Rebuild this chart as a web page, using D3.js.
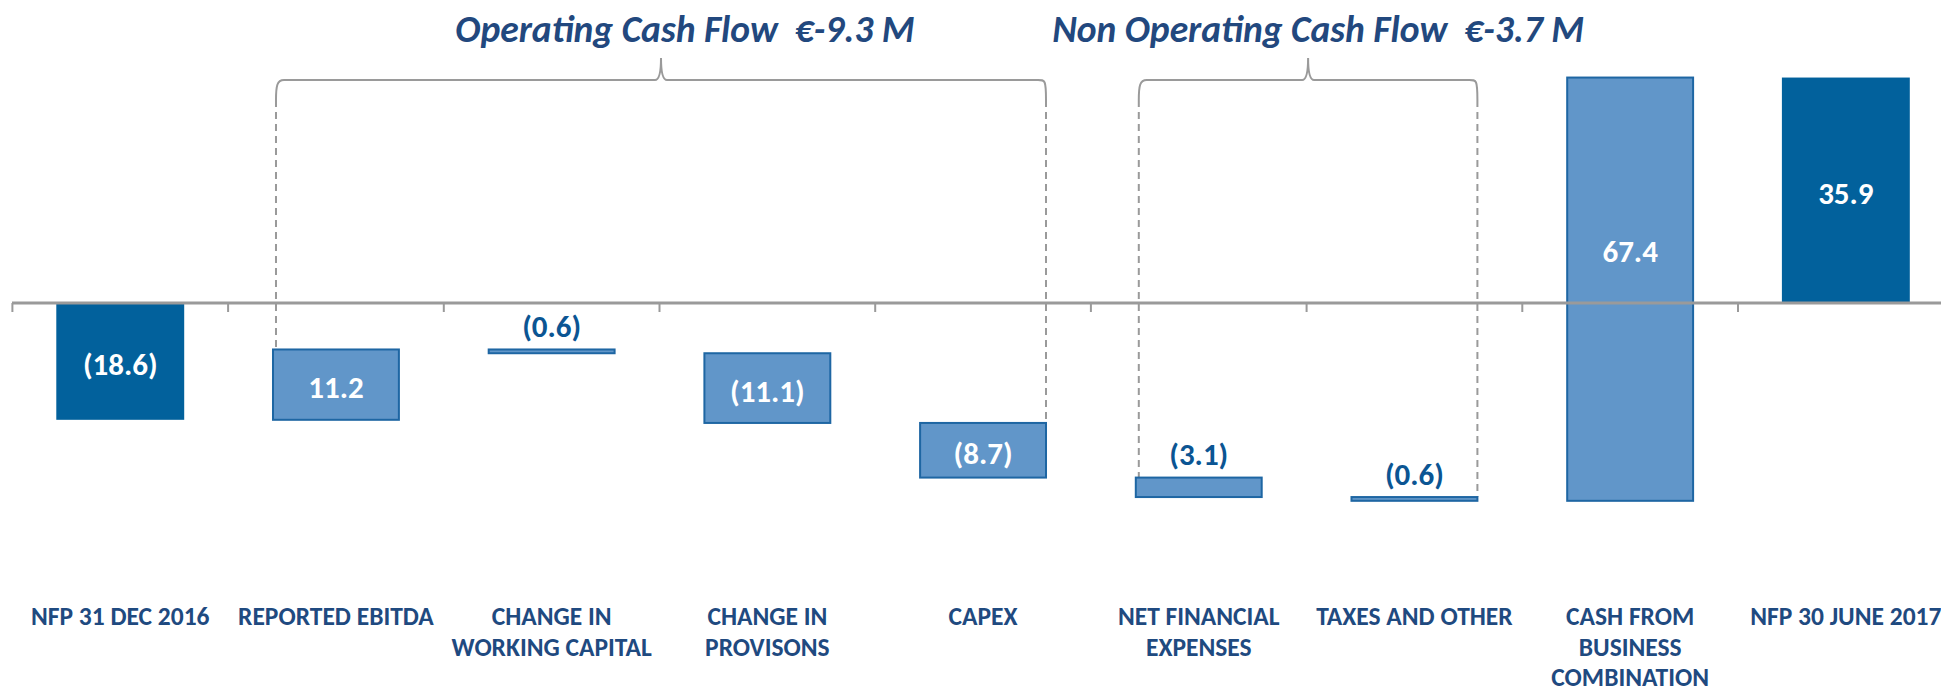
<!DOCTYPE html>
<html>
<head>
<meta charset="utf-8">
<script src="https://cdn.jsdelivr.net/npm/d3@7"></script>
<style>
  html, body { margin: 0; padding: 0; background: #fff; overflow: hidden; }
  svg { display: block; }
  text { font-family: Carlito, Calibri, Lato, "Open Sans", sans-serif; }
</style>
</head>
<body>
<svg id="chart" width="1941" height="693"></svg>
<script>
// Net financial position bridge, € million
const categories = [
  "NFP 31 DEC 2016",
  "REPORTED EBITDA",
  "CHANGE IN\nWORKING CAPITAL",
  "CHANGE IN\nPROVISONS",
  "CAPEX",
  "NET FINANCIAL\nEXPENSES",
  "TAXES AND OTHER",
  "CASH FROM\nBUSINESS\nCOMBINATION",
  "NFP 30 JUNE 2017"
];
const values = [-18.6, 11.2, -0.6, -11.1, -8.7, -3.1, -0.6, 67.4, 35.9];
const valueLabels = ["(18.6)", "11.2", "(0.6)", "(11.1)", "(8.7)", "(3.1)", "(0.6)", "67.4", "35.9"];
const isTotal = [true, false, false, false, false, false, false, false, true];

// Bracketed groups: first and last category of each
const groups = [
  { title: "Operating Cash Flow  €-9.3 M", from: 1, to: 4 },
  { title: "Non Operating Cash Flow  €-3.7 M", from: 5, to: 6 }
];

const COLORS = {
  total: "#02619C",
  delta: "#6196C9",
  deltaStroke: "#1E66A3",
  axis: "#9A9A9A",
  label: "#1F4A80",
  valueOut: "#0B5593",
  title: "#22487E"
};

const svg = d3.select("#chart");

// Waterfall geometry: each step runs from the running total to the new total
let running = 0;
const bars = values.map((v, i) => {
  let y0, y1;
  if (isTotal[i]) { y0 = 0; y1 = v; running = v; }
  else { y0 = running; y1 = running + v; running = y1; }
  return { i, cat: categories[i], v, label: valueLabels[i], total: isTotal[i], y0, y1 };
});

const x = d3.scaleBand()
  .domain(categories)
  .range([12.4, 12.4 + 215.7 * categories.length])
  .paddingInner(0.407)
  .paddingOuter(0.2035);

const y = d3.scaleLinear().domain([-40, 40]).range([303 + 40 * 6.28, 303 - 40 * 6.28]);

const bw = x.bandwidth();
const step = x.step();
const edge = c => x(c) - (step - bw) / 2;

// Group brackets and dashed guides
groups.forEach((g, gi) => {
  const L = x(categories[g.from]) + 4;
  const R = x(categories[g.to]) + bw - 1;
  const mid = (L + R) / 2;
  const yTop = 80, yEnd = 100, yPeak = 58;
  const p = d3.path();
  p.moveTo(L, yEnd);
  p.bezierCurveTo(L, yEnd - 14, L + 1, yTop, L + 8, yTop);
  p.lineTo(mid - 6, yTop);
  p.bezierCurveTo(mid - 2, yTop, mid, yTop - 8, mid, yPeak);
  p.bezierCurveTo(mid, yTop - 8, mid + 2, yTop, mid + 6, yTop);
  p.lineTo(R - 8, yTop);
  p.bezierCurveTo(R - 1, yTop, R, yTop, R, yEnd);
  svg.append("path").attr("d", p.toString())
    .attr("fill", "none").attr("stroke", COLORS.axis).attr("stroke-width", 2);

  const bl = bars[g.from], br = bars[g.to];
  svg.append("line")
    .attr("x1", L).attr("x2", L).attr("y1", yEnd)
    .attr("y2", y(Math.max(bl.y0, bl.y1)) + (gi === 0 ? 20 : 0))
    .attr("stroke", COLORS.axis).attr("stroke-width", 2).attr("stroke-dasharray", "7 5");
  svg.append("line")
    .attr("x1", R).attr("x2", R).attr("y1", yEnd)
    .attr("y2", y(Math.max(br.y0, br.y1)))
    .attr("stroke", COLORS.axis).attr("stroke-width", 2).attr("stroke-dasharray", "7 5");

  svg.append("text")
    .attr("x", gi === 0 ? mid + 24 : mid + 10)
    .attr("y", 41.7)
    .attr("text-anchor", "middle")
    .style("white-space", "pre")
    .attr("font-size", 37.5)
    .attr("font-weight", "bold")
    .attr("font-style", "italic")
    .attr("fill", COLORS.title)
    .text(g.title);
});

// Bars
svg.append("g").selectAll("rect")
  .data(bars)
  .join("rect")
  .attr("x", d => x(d.cat) + (d.total ? 0 : 1))
  .attr("width", d => bw - (d.total ? 0 : 2))
  .attr("y", d => y(Math.max(d.y0, d.y1)))
  .attr("height", d => Math.abs(y(d.y0) - y(d.y1)))
  .attr("fill", d => d.total ? COLORS.total : COLORS.delta)
  .attr("stroke", d => d.total ? "none" : COLORS.deltaStroke)
  .attr("stroke-width", 2);

// Zero axis with ticks at category boundaries
const axisG = svg.append("g");
axisG.append("line")
  .attr("x1", 12).attr("x2", 1941)
  .attr("y1", y(0)).attr("y2", y(0))
  .attr("stroke", COLORS.axis).attr("stroke-width", 3);
axisG.selectAll("line.tick")
  .data(categories)
  .join("line")
  .attr("class", "tick")
  .attr("x1", d => edge(d)).attr("x2", d => edge(d))
  .attr("y1", y(0)).attr("y2", y(0) + 9)
  .attr("stroke", COLORS.axis).attr("stroke-width", 2);

// Value labels: inside tall bars, above thin ones
svg.append("g").selectAll("text")
  .data(bars)
  .join("text")
  .attr("x", d => x(d.cat) + bw / 2)
  .attr("y", d => {
    const top = y(Math.max(d.y0, d.y1)), bot = y(Math.min(d.y0, d.y1));
    if (bot - top < 30) return top - 23;
    const crossesZero = d.y0 < 0 && d.y1 > 0;
    return (top + bot) / 2 + (crossesZero && !d.total ? -38 : 3);
  })
  .attr("dy", "0.35em")
  .attr("text-anchor", "middle")
  .attr("font-size", 31)
  .attr("font-weight", "bold")
  .attr("fill", d => {
    const h = Math.abs(y(d.y0) - y(d.y1));
    return h < 30 ? COLORS.valueOut : "#fff";
  })
  .text(d => d.label);

// Category labels
const catG = svg.append("g");
categories.forEach(c => {
  const t = catG.append("text")
    .attr("x", x(c) + bw / 2)
    .attr("y", 625)
    .attr("text-anchor", "middle")
    .attr("font-size", 25.5)
    .attr("font-weight", "bold")
    .attr("fill", COLORS.label);
  c.split("\n").forEach((line, k) => {
    t.append("tspan")
      .attr("x", x(c) + bw / 2)
      .attr("dy", k === 0 ? 0 : 30.5)
      .text(line);
  });
});
</script>
</body>
</html>
